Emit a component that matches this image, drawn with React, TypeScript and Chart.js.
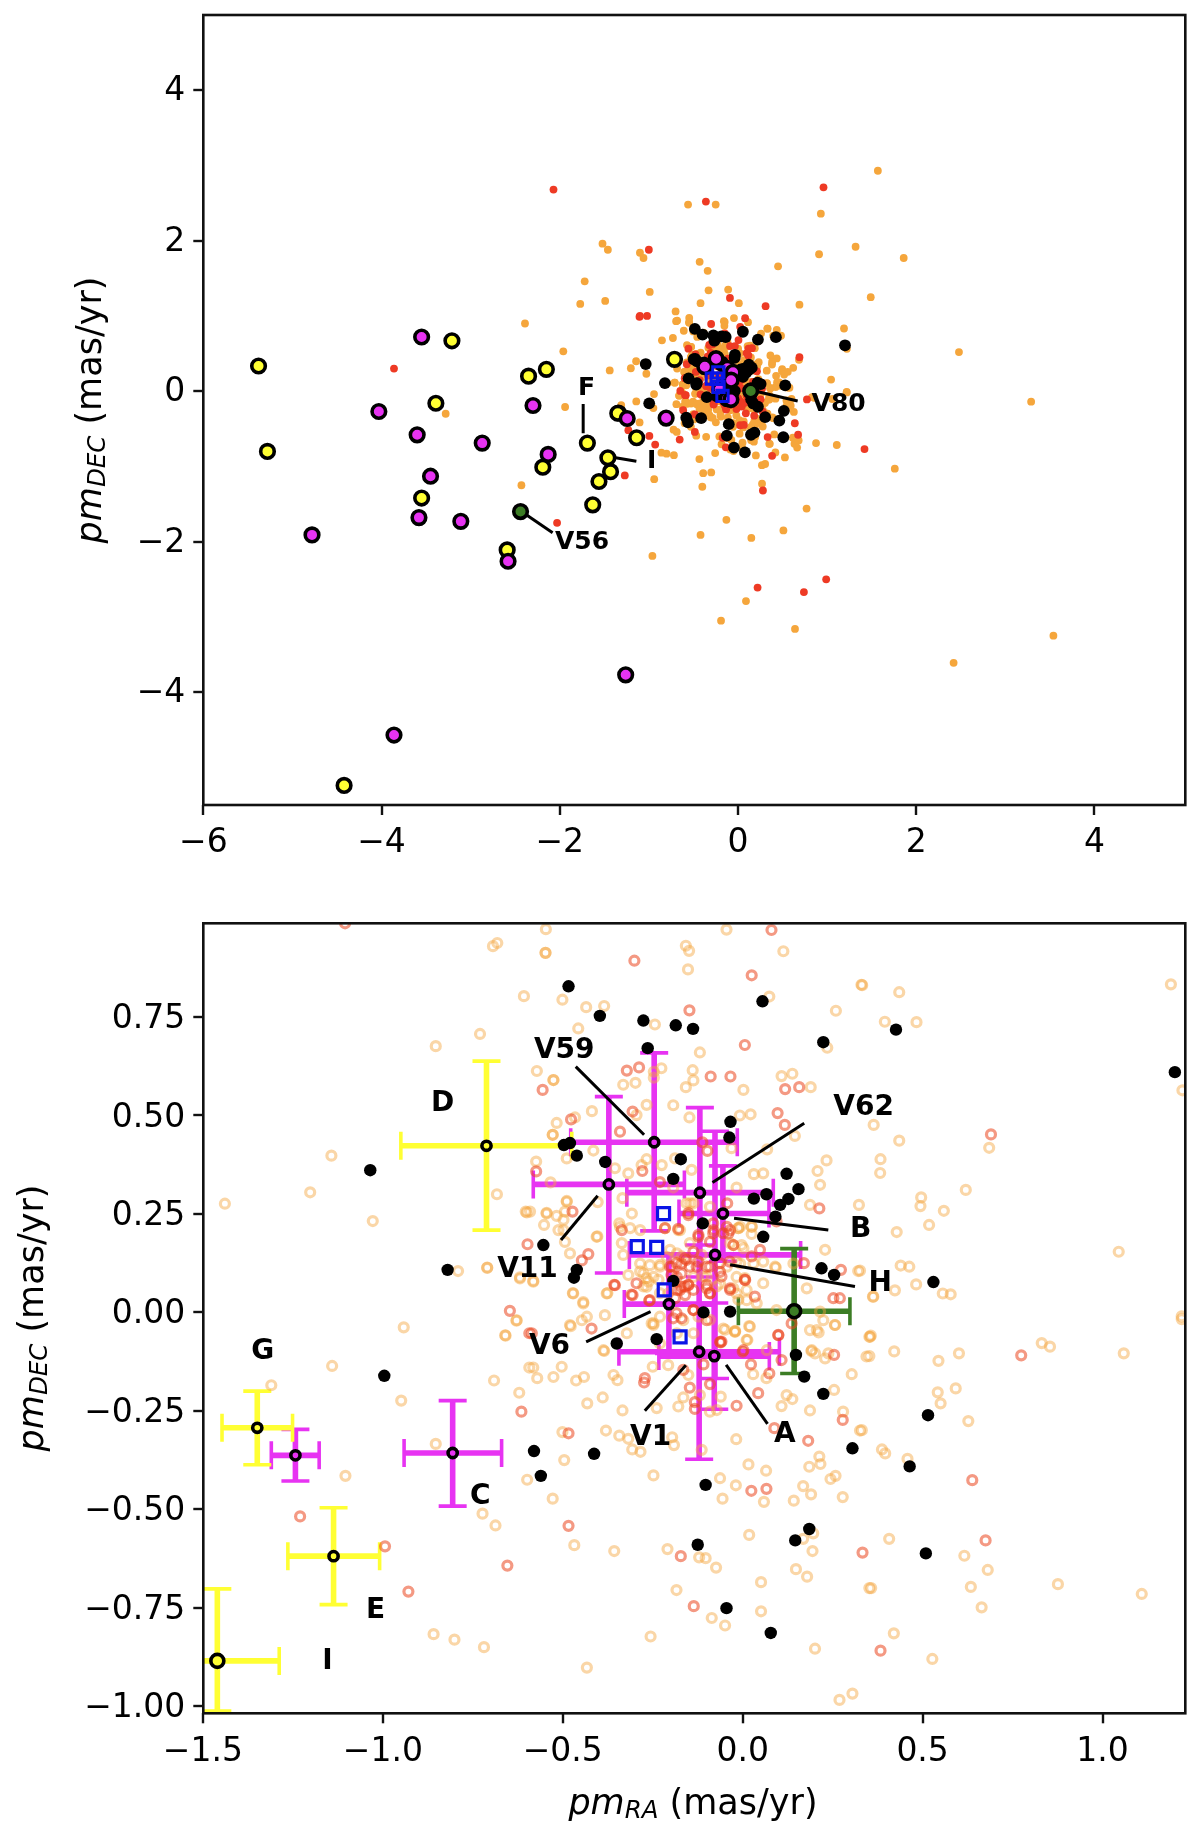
import React, { useEffect, useRef } from 'react';
import { Chart, registerables } from 'chart.js';

Chart.register(...registerables);

// [pmRA, pmDEC]
const orangeInner: [number, number][] = [
    [-.694, .930], [-.682, .938], [-.608, .803], [-.730, .707], [-.853, .676], [-1.143, .398], [-1.202, .305], [-1.439, .276],
    [-1.028, .232], [-.683, .300], [-.603, .256], [-.791, .105], [-.710, .114], [-.619, .089],
    [-.547, .973], [-.045, .972], [-.158, .931], [-.149, .918], [-.548, .913], [-.548, .913], [.113, .917], [-.152, .871],
    [.330, .832], [-.501, .794], [-.435, .775], [-.385, .778], [.074, .802], [.259, .766], [-.457, .721], [-.244, .731],
    [-.119, .660], [.235, .672], [-.572, .613], [-.526, .590], [-.526, .590], [-.139, .615], [-.137, .589], [-.226, .620],
    [-.247, .611], [-.247, .596], [-.332, .578], [-.298, .583], [-.158, .572], [.002, .565], [.108, .600], [.138, .606],
    [.189, .572], [-.267, .527], [-.193, .526], [-.419, .511], [-.517, .481], [-.466, .495], [-.528, .451], [-.528, .451],
    [-.148, .495], [-.008, .500], [.022, .503], [-.295, .501], [.145, .448], [-.031, .417], [.068, .414], [-.415, .411],
    [-.489, .391], [-.574, .383], [-.267, .389], [-.355, .366], [-.318, .353], [-.281, .374], [-.225, .374], [-.188, .391],
    [-.142, .362], [.233, .386], [.208, .359], [.215, .324], [.031, .351], [.057, .353], [-.017, .317], [-.534, .330],
    [.187, .273], [.323, .273], [-.334, .290], [-.193, .317], [-.489, .283], [-.545, .253], [-.517, .245], [-.494, .256],
    [-.498, .235], [-.591, .256], [-.403, .280], [-.552, .222], [-.498, .209], [-.404, .193], [-.480, .150], [-.336, .176],
    [-.343, .226], [-.313, .214], [-.582, .080], [-.472, .049], [-.443, .026], [-.376, .049], [-.332, .146], [-.285, .104],
    [-.267, .087], [-.318, .095], [-.234, .083], [-.276, .066], [.002, .163], [.057, .129], [.092, .114], [.321, .105],
    [.229, .159], [-.012, .214], [.025, .199], [-.026, .171], [-.017, .129], [.178, .061], [.057, .074], [-.026, .061],
    [.006, .087], [-.341, .217], [-.285, .209], [-.174, .209], [-.308, .251], [-.146, .277], [-.091, .268], [-.007, .217],
    [.025, .217], [-.230, .116], [-.285, .124], [-.258, .120], [-.248, .090], [-.267, .065], [-.207, .048], [-.137, .090],
    [-.100, .090], [-.211, .141], [-.183, .150], [-.007, .124], [.030, .124], [.090, .116], [.141, .124], [.363, .040],
    [-.044, .116], [-.017, .090], [.011, .031], [-.063, .073], [-.017, .048], [.039, .023], [.094, .006], [.215, .002],
    [.224, -.020], [.206, -.045], [.257, -.032], [.187, -.045], [.354, -.062], [.201, -.104], [.238, -.104], [.192, -.096],
    [-.248, -.028], [-.165, -.020], [-.183, -.053], [-.137, -.053], [-.230, -.079], [-.383, -.007], [-.443, .023], [-.471, .048],
    [-.378, .048], [-.322, -.053], [-.433, -.011], [-.447, -.020], [-.480, -.032], [-.628, -.020], [-.660, -.058], [-.387, -.096],
    [-.054, -.041], [-.021, -.049], [.011, -.070], [.067, -.096], [-.600, .254], [-.545, .251], [-.489, .281], [-.512, .209],
    [-.494, .179], [-.406, .192], [-.619, .086], [-.582, .078], [-.710, .113],
    [-.230, .121], [-.276, .099], [-.262, .078], [-.230, .049], [-.202, .159], [-.147, .176], [-.170, .142], [-.114, .146],
    [-.035, .176], [-.003, .171], [-.012, .214], [.025, .218], [-.110, .091], [-.072, .066], [-.012, .032], [.011, .057],
    [-.049, -.044], [-.022, -.049], [.020, -.036], [-.253, -.028], [-.230, -.011], [-.156, .277], [-.137, .277], [-.179, .209],
    [-.216, .214], [-.123, -.011], [-.091, -.019],
    [.332, .831], [.435, .813], [.395, .738], [.483, .737], [1.190, .833], [1.222, .564], [.364, .476], [.435, .436],
    [.685, .418], [.383, .389], [.382, .354], [.620, .311], [.496, .292], [.494, .270], [.559, .258], [.518, .222],
    [.428, .204], [.439, .119], [.463, .116], [.423, .056], [.482, .071], [.362, .040], [.556, .048], [.578, .046],
    [1.045, .154], [1.220, -.010], [.326, .106],
    [-.478, -.035], [-.385, -.098], [-.248, -.032], [-.021, -.047], [.018, -.035], [.013, -.070], [.191, -.098], [.211, -.051],
    [.256, -.032], [.229, -.117], [.344, -.112], [.303, -.157], [.254, -.197], [-.582, -.140], [-.571, -.167], [-.526, -.164],
    [-.503, -.138], [-.463, -.173], [-.441, -.164], [-.359, -.159], [-.348, -.172], [-.432, -.231], [-.389, -.216], [-.334, -.249],
    [-.239, -.243], [-.207, -.134], [-.250, -.138], [-.151, -.159], [-.165, -.216], [-.179, -.239], [-.119, -.210], [-.091, -.252],
    [-.072, -.248], [-.061, -.214], [.029, -.157], [.066, -.167], [.108, -.238], [.122, -.210], [.138, -.220], [.187, -.249],
    [.279, -.252], [.326, -.300], [-.380, -.300], [-.343, -.313], [-.318, -.321], [-.307, -.348], [-.284, -.354], [-.501, -.304],
    [-.496, -.375], [-.196, -.317], [-.191, -.337], [-.248, -.414], [-.114, -.349], [-.018, -.322], [.016, -.386], [.065, -.402],
    [-.063, -.421], [-.019, -.439], [-.056, -.473], [.059, -.481], [.142, -.478], [.168, -.441], [.190, -.462], [.185, -.392],
    [.216, -.385], [.213, -.366], [.244, -.423], [.258, -.415], [.278, -.469], [-.528, -.473], [-.468, -.591], [-.357, -.606],
    [-.209, -.601], [-.121, -.622], [-.103, -.624], [-.074, -.648], [.018, -.565], [.196, -.561], [.168, -.575], [.194, -.606],
    [.148, -.652], [.179, -.671], [.051, -.685], [-.184, -.705], [.051, -.759], [-.086, -.776], [-.049, -.795], [-.256, -.823],
    [.201, -.854], [-.433, -.902], [.269, -.984], [.305, -.968], [.352, -.700], [.352, -.062],
    [-.942, -.038], [-1.141, -.136], [-1.310, -.185], [-.949, -.224], [-.629, -.021], [-.659, -.059], [-.593, -.140], [-.691, -.173],
    [-.621, -.204], [-.853, -.334], [-1.104, -.415], [-.599, -.425], [-.723, -.511], [-.687, -.541], [-.859, -.817], [-.801, -.831],
    [-.719, -.850],
    [.356, -.059], [.352, -.111], [.421, -.099], [.544, -.123], [.601, -.104], [.831, -.078], [.854, -.087], [1.059, -.104],
    [1.220, -.017], [.542, -.203], [.592, -.193], [.550, -.231], [.627, -.276], [.331, -.299], [.387, -.348], [.396, -.358],
    [.458, -.372], [.407, -.575], [.616, -.618], [.681, -.654], [.634, -.697], [.664, -.749], [.876, -.690], [1.109, -.715],
    [.357, -.700], [.420, -.815], [.527, -.880],
];

const redInner: [number, number][] = [
    [-.598, .173], [-.647, .004], [-1.105, .988], [-.301, .893], [.080, .971], [.025, .856], [-.148, .767], [.006, .679],
    [-.322, .614], [-.288, .622], [-.556, .565], [-.089, .599], [-.034, .599], [.118, .567], [.157, .572], [-.306, .510],
    [-.477, .490], [.097, .506], [.117, .476], [-.341, .459], [-.112, .432], [-.098, .410], [-.279, .359], [-.230, .331],
    [-.574, .358], [-.473, .256], [-.151, .252], [-.336, .209], [-.179, .212], [-.216, .214], [-.043, .277], [.094, .231],
    [.213, .264], [-.447, .132], [-.429, .148], [.048, .159], [.025, .142], [.170, .125], [.273, .108], [.006, .083],
    [-.357, .070], [-.295, .074], [-.309, .045], [.252, .036], [.270, .036], [.034, .040], [-.035, .061],
    [-.151, .247], [-.081, .209], [-.044, .217], [-.026, .171], [-.040, .200], [-.091, .179], [-.123, .192], [-.197, .116],
    [-.170, .124], [-.183, .090], [-.156, .133], [-.128, .116], [-.091, .116], [-.063, .103], [-.170, .065], [-.151, .069],
    [-.183, .057], [-.160, .044], [-.100, .061], [-.091, .048], [-.035, .057], [.007, .082], [-.355, .069], [-.258, .031],
    [-.137, .006], [-.100, -.020], [.099, -.058], [-.063, -.075], [.002, -.096], [-.420, -.041], [-.586, -.053], [.690, .452],
    [-.082, .201], [-.054, .201], [-.035, .209], [-.082, .226], [-.123, .197], [-.202, .116], [-.184, .125], [-.161, .137],
    [-.137, .154], [-.198, .095], [-.170, .099], [-.147, .116], [-.161, .066], [-.174, .057], [-.151, .070], [-.137, .057],
    [-.188, .036], [-.100, .070], [-.091, .049], [-.100, .116], [-.123, .129], [-.059, .091], [-.137, .006], [-.184, -.002],
    [-.193, -.015], [-.170, -.015], [-.306, .044], [-.260, .030], [-.059, -.074], [.000, -.100], [.136, -.028], [-.063, .125],
    [-.036, .129],
    [-.593, -.053], [-.615, -.252], [-1.230, -.518], [-.994, -.594], [-.654, -.643], [-.929, -.709],
    [-.484, -.307], [-.272, -.167], [-.274, -.178], [-.147, -.191], [-.091, -.182], [-.133, -.228], [-.133, -.245], [-.017, -.237],
    [.043, -.205], [.074, -.155], [.023, -.132], [.099, -.057], [-.061, -.076], [.254, -.108], [.108, -.121], [-.109, -.132],
    [-.165, -.146], [.278, -.273], [.182, -.326], [-.484, -.542], [.024, -.453], [.066, -.448], [-.172, -.619], [.333, -.610],
    [-.136, -.746], [.088, -.294], [.774, -.109], [.638, -.426], [.675, -.579], [.383, -.859],
];

const blackStars: [number, number][] = [
    [-1.035, .361], [-.820, .108], [.426, .718], [1.201, .610], [.530, .077],
    [-.484, .828], [-.397, .753], [-.276, .741], [-.186, .729], [-.138, .720], [.055, .790], [.224, .686], [-.264, .671],
    [-.034, .484], [-.037, .444], [-.497, .425], [-.480, .430], [-.461, .398], [-.382, .382], [-.172, .389], [-.193, .339],
    [.122, .352], [.155, .313], [.066, .300], [.031, .289], [.127, .288], [.104, .273], [.091, .243], [-.111, .226],
    [.057, .192], [-.554, .171], [-.461, .108], [-.469, .088], [.219, .112], [.254, .095], [-.193, .080], [-.109, .000],
    [-.035, .002], [-.350, -.079], [-.239, -.068], [.148, -.108], [.171, -.163], [.224, -.207], [.305, -.345], [-.580, -.352],
    [-.413, -.359], [-.561, -.415], [-.103, -.438], [.185, -.550], [.146, -.579], [-.125, -.590], [-.045, -.751], [.078, -.814],
    [-.996, -.161], [.515, -.261], [.464, -.391], [.509, -.612],
];

// points only the wide upper panel can show
const orangeOuter: [number, number][] = [
    [1.57, 2.93], [.93, 2.36], [-.56, 2.48], [-.25, 2.48], [-1.52, 1.96], [-1.46, 1.88], [-1.10, 1.84], [-1.06, 1.77],
    [1.32, 1.92], [.91, 1.82], [1.86, 1.77], [-.43, 1.72], [-.34, 1.60], [.45, 1.66], [-1.72, 1.46], [-1.77, 1.16],
    [-1.49, 1.20], [-.99, 1.32], [-.33, 1.34], [-.11, 1.35], [1.49, 1.25], [.69, 1.15], [-.42, 1.17], [.01, 1.17],
    [-2.39, .90], [-1.96, .53], [-.70, 1.06], [2.48, .52], [-3.28, -.30], [-1.94, -.21], [3.29, -.14], [1.76, -1.03],
    [-.39, -1.09], [-.30, -1.08], [-.94, -1.17], [-2.43, -1.25], [-.40, -1.27], [.27, -1.23], [.77, -1.56], [-.13, -1.71],
    [-.42, -1.91], [.15, -1.95], [.51, -1.85], [-.96, -2.19], [.09, -2.79], [-.19, -3.05], [.64, -3.16], [2.42, -3.61],
    [3.54, -3.25],
];

const redOuter: [number, number][] = [
    [-2.07, 2.68], [-.36, 2.52], [.96, 2.71], [-1.0, 1.88], [-.09, 1.24], [.31, 1.13], [-1.10, 1.0], [-1.02, 1.0],
    [-3.86, .30], [1.42, -.77], [-1.27, -1.12], [.28, -1.32], [-2.03, -1.75], [.22, -2.61], [.74, -2.67], [.99, -2.50],
];

const blueX = [-.220, -.293, -.239, -.218, -.174];
const blueY = [.251, .167, .165, .057, -.062];

// V59, V11, V62, B, H, V6, V1, A, (unnamed), C
const magentaX = [-.246, -.372, -.119, -.055, -.077, -.205, -.121, -.079, -1.243, -.806];
const magentaY = [.432, .325, .304, .251, .146, .021, -.100, -.111, -.363, -.357];
const magentaXLo = [-.478, -.582, -.322, -.177, -.315, -.329, -.344, -.233, -1.310, -.941];
const magentaXHi = [-.015, -.162, .085, .073, .161, -.081, .102, .074, -1.177, -.670];
const magentaYLo = [.207, .100, .090, .130, -.168, -.104, -.373, -.246, -.428, -.492];
const magentaYHi = [.659, .548, .520, .372, .460, .146, .171, .024, -.297, -.224];

// D, G, E, I
const yellowX = [-.712, -1.349, -1.137, -1.460];
const yellowY = [.423, -.293, -.619, -.885];
const yellowXLo = [-.950, -1.447, -1.264, -1.632];
const yellowXHi = [-.475, -1.251, -1.009, -1.288];
const yellowYLo = [.209, -.387, -.742, -1.012];
const yellowYHi = [.638, -.200, -.496, -.702];

const greenX = [.143];
const greenY = [.003];
const greenXLo = [-.012];
const greenXHi = [.298];
const greenYLo = [-.155];
const greenYHi = [.162];

// outliers of the upper panel
const yellowFarX = [-5.38, -5.28, -4.42, -3.21, -3.39, -3.55, -2.59, -2.35, -2.15, -2.19, -1.69, -1.43, -1.56, -1.63, -1.34];
const yellowFarY = [.335, -.80, -5.24, .67, -.16, -1.42, -2.11, .20, .29, -1.01, -.69, -1.07, -1.20, -1.51, -.29];
const magentaFarX = [-3.55, -4.03, -3.60, -3.45, -3.58, -3.11, -2.87, -2.30, -2.13, -4.78, -2.58, -3.86, -1.26];
const magentaFarY = [.72, -.27, -.58, -1.13, -1.68, -1.73, -.69, -.19, -.84, -1.91, -2.26, -4.57, -3.77];
const greenFarX = [-2.44, .143];
const greenFarY = [-1.60, .003];

const topXTicks = [-6, -4, -2, 0, 2, 4];
const topYTicks = [-4, -2, 0, 2, 4];
const bottomXTicks = [-1.5, -1.0, -0.5, 0, 0.5, 1.0];
const bottomYTicks = [-1.0, -0.75, -0.5, -0.25, 0, 0.25, 0.5, 0.75];

const topLabels: [string, number, number][] = [['F', -1.70, .07], ['I', -.97, -.89], ['V80', 1.13, -.14], ['V56', -1.75, -1.97]];
const topLeaders = [
    [[-1.737, -.17], [-1.737, -.56]],
    [[-1.39, -.88], [-1.14, -.93]],
    [[.20, 0], [.67, -.13]],
    [[-2.38, -1.64], [-2.08, -1.88]],
];
const bottomLabels: [string, number, number][] = [
    ['D', -.834, .537], ['V59', -.496, .673], ['V62', .336, .527], ['B', .328, .218], ['H', .382, .080], ['V11', -.598, .116],
    ['V6', -.537, -.080], ['V1', -.256, -.311], ['A', .117, -.304], ['G', -1.334, -.091], ['C', -.729, -.461], ['E', -1.020, -.749],
    ['I', -1.154, -.880],
];
const bottomLeaders = [
    [[-.464, .624], [-.274, .451]],
    [[-.084, .330], [.171, .480]],
    [[-.403, .296], [-.505, .184]],
    [[-.024, .239], [.238, .209]],
    [[-.035, .121], [.312, .066]],
    [[-.435, -.075], [-.256, .002]],
    [[-.272, -.250], [-.158, -.134]],
    [[-.046, -.133], [.069, -.283]],
];

const FONT = '"DejaVu Sans"';
const MAGENTA = '#e733f2';
const YELLOW = '#ffff33';
const GREEN = '#3c7d25';
const BLUE = '#0a14e6';

const pairs = (list: [number, number][]) => list.map(([x, y]) => ({ x, y }));
const zip = (xs: number[], ys: number[]) => xs.map((x, i) => ({ x, y: ys[i] }));
const minusSign = (s: string) => s.replace('-', '\u2212');

const dot = (data: any[], color: string, radius: number) => ({
    data,
    showLine: false,
    pointRadius: radius,
    pointBackgroundColor: color,
    pointBorderWidth: 0,
});

const ringed = (data: any[], fill: string, radius: number | number[], edge = 3.6) => ({
    data,
    showLine: false,
    pointRadius: radius,
    pointBackgroundColor: fill,
    pointBorderColor: '#000',
    pointBorderWidth: edge,
});

const leader = (seg: number[][]) => ({
    data: seg.map(([x, y]) => ({ x, y })),
    showLine: true,
    borderColor: '#000',
    borderWidth: 3,
    pointRadius: 0,
});

interface ErrorGroup { color: string; x: number[]; y: number[]; xLo: number[]; xHi: number[]; yLo: number[]; yHi: number[] }

const errorBars = (groups: ErrorGroup[]) => ({
    id: 'errorBars',
    beforeDatasetsDraw(chart: any) {
        const { ctx, chartArea: a, scales } = chart;
        const px = (v: number) => scales.x.getPixelForValue(v);
        const py = (v: number) => scales.y.getPixelForValue(v);
        ctx.save();
        ctx.beginPath();
        ctx.rect(a.left, a.top, a.width, a.height);
        ctx.clip();
        groups.forEach((g) => {
            ctx.strokeStyle = g.color;
            g.x.forEach((x, i) => {
                ctx.lineWidth = 5.6;
                ctx.beginPath();
                ctx.moveTo(px(g.xLo[i]), py(g.y[i]));
                ctx.lineTo(px(g.xHi[i]), py(g.y[i]));
                ctx.moveTo(px(x), py(g.yLo[i]));
                ctx.lineTo(px(x), py(g.yHi[i]));
                ctx.stroke();
                ctx.lineWidth = 3.6;
                ctx.beginPath();
                [g.xLo[i], g.xHi[i]].forEach((c) => {
                    ctx.moveTo(px(c), py(g.y[i]) - 14);
                    ctx.lineTo(px(c), py(g.y[i]) + 14);
                });
                [g.yLo[i], g.yHi[i]].forEach((c) => {
                    ctx.moveTo(px(x) - 14, py(c));
                    ctx.lineTo(px(x) + 14, py(c));
                });
                ctx.stroke();
            });
        });
        ctx.restore();
    },
});

const textLabels = (labels: [string, number, number][], size: number) => ({
    id: 'textLabels',
    afterDatasetsDraw(chart: any) {
        const { ctx, scales } = chart;
        ctx.save();
        ctx.fillStyle = '#000';
        ctx.font = `bold ${size}px ${FONT}`;
        ctx.textAlign = 'center';
        ctx.textBaseline = 'middle';
        // +3: canvas "middle" sits a little above the cap-height centre
        labels.forEach(([t, x, y]) => ctx.fillText(t, scales.x.getPixelForValue(x), scales.y.getPixelForValue(y) + 3));
        ctx.restore();
    },
});

// pm_DEC (mas/yr) needs italic + subscript, which the scale title can't do
const drawPmLabel = (ctx: CanvasRenderingContext2D, cx: number, cy: number, sub: string, vertical: boolean) => {
    const size = 35;
    const runs = [
        { t: 'pm', font: `italic ${size}px ${FONT}`, dy: 0 },
        { t: sub, font: `italic ${size * 0.7}px ${FONT}`, dy: size * 0.2 },
        { t: ' (mas/yr)', font: `${size}px ${FONT}`, dy: 0 },
    ];
    const widths = runs.map((r) => {
        ctx.font = r.font;
        return ctx.measureText(r.t).width;
    });
    let pos = -widths.reduce((a, b) => a + b, 0) / 2;
    ctx.save();
    ctx.translate(cx, cy);
    if (vertical) ctx.rotate(-Math.PI / 2);
    ctx.fillStyle = '#000';
    ctx.textAlign = 'left';
    ctx.textBaseline = 'middle';
    runs.forEach((r, i) => {
        ctx.font = r.font;
        ctx.fillText(r.t, pos, r.dy);
        pos += widths[i];
    });
    ctx.restore();
};

const frame = {
    id: 'frame',
    afterDraw(chart: any) {
        const { ctx, chartArea: a } = chart;
        ctx.save();
        ctx.strokeStyle = '#111';
        ctx.lineWidth = 2.6;
        ctx.strokeRect(a.left, a.top, a.width, a.height);
        ctx.restore();
    },
};

const axisLabels = (vx: number, vy: number, xLabel: null | { cx: number; cy: number }) => ({
    id: 'axisLabels',
    afterDraw(chart: any) {
        drawPmLabel(chart.ctx, vx, vy, 'DEC', true);
        if (xLabel) drawPmLabel(chart.ctx, xLabel.cx, xLabel.cy, 'RA', false);
    },
});

const axis = (min: number, max: number, ticks: number[], digits: number, fit: (s: any) => void, padding: number, labelOffset = 0) => ({
    type: 'linear' as const,
    min,
    max,
    afterBuildTicks: (s: any) => {
        s.ticks = ticks.map((value) => ({ value }));
    },
    afterFit: fit,
    border: { display: false },
    grid: { drawOnChartArea: false, drawTicks: true, tickLength: 10, tickWidth: 2.4, tickColor: '#111', lineWidth: 0 },
    ticks: {
        color: '#000',
        font: { family: FONT, size: 33 },
        padding,
        labelOffset,
        maxRotation: 0,
        autoSkip: false,
        callback: (v: any) => minusSign(Number(v).toFixed(digits)),
    },
});

const baseOptions = (x: any, y: any, padding: any) => ({
    responsive: false,
    animation: false as const,
    devicePixelRatio: 1,
    layout: { padding, autoPadding: false },
    plugins: { legend: { display: false }, tooltip: { enabled: false } },
    scales: { x, y },
});

// fixed plot boxes: tick labels must not push the chart area around
const fitY = (s: any) => {
    s.width = 203.3;
    s.paddingTop = 0;
    s.paddingBottom = 0;
};
const fitX = (s: any) => {
    s.height = 80;
    s.paddingLeft = 0;
    s.paddingRight = 0;
};

const App: React.FC = () => {
    const topRef = useRef<HTMLCanvasElement>(null);
    const bottomRef = useRef<HTMLCanvasElement>(null);

    useEffect(() => {
        if (!topRef.current || !bottomRef.current) return;

        // Chart.js paints the first dataset last, so the lists are written bottom-up and reversed
        const top = new Chart(topRef.current, {
            type: 'scatter',
            data: {
                datasets: [
                    dot(pairs([...orangeInner, ...orangeOuter]), '#f5a63c', 3.9),
                    dot(pairs([...redInner, ...redOuter]), '#ee3a24', 3.9),
                    dot(pairs(blackStars), '#000', 5.9),
                    ...topLeaders.map(leader),
                    ringed(zip([...yellowFarX, ...yellowX], [...yellowFarY, ...yellowY]), YELLOW, 6.8),
                    ringed(zip([...magentaFarX, ...magentaX], [...magentaFarY, ...magentaY]), MAGENTA, 6.8),
                    ringed(zip(greenFarX, greenFarY), GREEN, 6.8),
                    {
                        data: zip(blueX, blueY),
                        showLine: false,
                        pointStyle: 'rect',
                        pointRadius: 8,
                        pointBackgroundColor: 'transparent',
                        pointBorderColor: BLUE,
                        pointBorderWidth: 3,
                    },
                ].reverse() as any,
            },
            options: baseOptions(
                axis(-6, 5.02, topXTicks, 0, fitX, 9),
                axis(-5.5, 5, topYTicks, 0, fitY, 8, 1.5),
                { left: 0, right: 14.7, top: 15, bottom: 15 }
            ) as any,
            plugins: [textLabels(topLabels, 25), axisLabels(92, 410, null), frame],
        });

        const bottom = new Chart(bottomRef.current, {
            type: 'scatter',
            data: {
                datasets: [
                    {
                        data: pairs(orangeInner),
                        showLine: false,
                        pointRadius: 4.5,
                        pointBackgroundColor: 'transparent',
                        pointBorderColor: 'rgba(245,165,60,0.45)',
                        pointBorderWidth: 3.2,
                    },
                    {
                        data: pairs(redInner),
                        showLine: false,
                        pointRadius: 4.5,
                        pointBackgroundColor: 'transparent',
                        pointBorderColor: 'rgba(235,70,30,0.55)',
                        pointBorderWidth: 3.2,
                    },
                    dot(pairs(blackStars), '#000', 6.2),
                    ...bottomLeaders.map(leader),
                    {
                        data: zip(blueX, blueY),
                        showLine: false,
                        pointStyle: 'rect',
                        pointRadius: 8.5,
                        pointBackgroundColor: 'transparent',
                        pointBorderColor: BLUE,
                        pointBorderWidth: 3.2,
                    },
                    ringed(zip(magentaX, magentaY), MAGENTA, 4.6),
                    ringed(zip(yellowX, yellowY), YELLOW, [4.6, 4.6, 4.6, 6.5]),
                    ringed(zip(greenX, greenY), GREEN, 6.5),
                ].reverse() as any,
            },
            options: baseOptions(
                axis(-1.499, 1.23, bottomXTicks, 1, fitX, 9),
                axis(-1.018, 0.988, bottomYTicks, 2, fitY, 8, 2.5),
                { left: 0, right: 14.7, top: 23.3, bottom: 44.7 }
            ) as any,
            plugins: [
                errorBars([
                    { color: MAGENTA, x: magentaX, y: magentaY, xLo: magentaXLo, xHi: magentaXHi, yLo: magentaYLo, yHi: magentaYHi },
                    { color: YELLOW, x: yellowX, y: yellowY, xLo: yellowXLo, xHi: yellowXHi, yLo: yellowYLo, yHi: yellowYHi },
                    { color: GREEN, x: greenX, y: greenY, xLo: greenXLo, xHi: greenXHi, yLo: greenYLo, yHi: greenYHi },
                ]),
                textLabels(bottomLabels, 28),
                axisLabels(34, 418, { cx: 693, cy: 905 }),
                frame,
            ],
        });

        return () => {
            top.destroy();
            bottom.destroy();
        };
    }, []);

    return (
        <div style={{ position: 'absolute', left: 0, top: 0, width: 1200, height: 1838, background: '#fff' }}>
            <canvas ref={topRef} width={1200} height={900} style={{ position: 'absolute', left: 0, top: 0 }} />
            <canvas ref={bottomRef} width={1200} height={938} style={{ position: 'absolute', left: 0, top: 900 }} />
        </div>
    );
};

export default App;
